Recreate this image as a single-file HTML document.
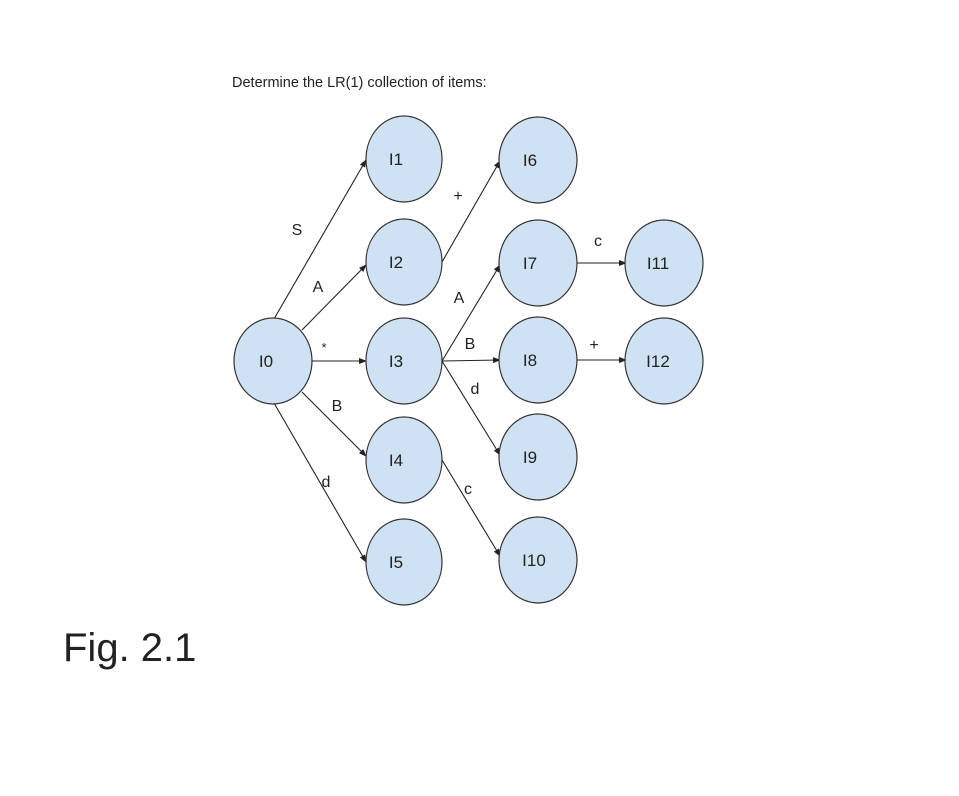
<!DOCTYPE html>
<html><head><meta charset="utf-8"><style>
html,body{margin:0;padding:0;background:#fff;width:959px;height:796px;overflow:hidden}
svg text{font-family:"Liberation Sans",Arial,sans-serif;fill:#222}
</style></head><body>
<svg width="959" height="796" viewBox="0 0 959 796" xmlns="http://www.w3.org/2000/svg">
<defs><marker id="a" markerWidth="8" markerHeight="6" refX="7" refY="3" orient="auto" markerUnits="userSpaceOnUse"><path d="M0,0 L8,3 L0,6 z" fill="#222"/></marker></defs>
<text x="232" y="87" font-size="14.5">Determine the LR(1) collection of items:</text>
<g stroke="#222" stroke-width="1.1" fill="none" marker-end="url(#a)">
<line x1="274" y1="319" x2="366" y2="160"/>
<line x1="302" y1="330" x2="366" y2="265"/>
<line x1="312" y1="361" x2="366" y2="361"/>
<line x1="302" y1="392" x2="366" y2="456"/>
<line x1="274" y1="403" x2="366" y2="562"/>
<line x1="442" y1="262" x2="500" y2="161"/>
<line x1="442" y1="361" x2="500" y2="265"/>
<line x1="442" y1="361" x2="500" y2="360"/>
<line x1="442" y1="361" x2="500" y2="455"/>
<line x1="442" y1="460" x2="500" y2="556"/>
<line x1="577" y1="263" x2="626" y2="263"/>
<line x1="577" y1="360" x2="626" y2="360"/>
</g>
<g fill="#cfe2f3" stroke="#333" stroke-width="1.2">
<ellipse cx="273" cy="361" rx="39" ry="43"/>
<ellipse cx="404" cy="159" rx="38" ry="43"/>
<ellipse cx="404" cy="262" rx="38" ry="43"/>
<ellipse cx="404" cy="361" rx="38" ry="43"/>
<ellipse cx="404" cy="460" rx="38" ry="43"/>
<ellipse cx="404" cy="562" rx="38" ry="43"/>
<ellipse cx="538" cy="160" rx="39" ry="43"/>
<ellipse cx="538" cy="263" rx="39" ry="43"/>
<ellipse cx="538" cy="360" rx="39" ry="43"/>
<ellipse cx="538" cy="457" rx="39" ry="43"/>
<ellipse cx="538" cy="560" rx="39" ry="43"/>
<ellipse cx="664" cy="263" rx="39" ry="43"/>
<ellipse cx="664" cy="361" rx="39" ry="43"/>
</g>
<g font-size="17" text-anchor="middle">
<text x="266" y="367">I0</text>
<text x="396" y="165">I1</text>
<text x="396" y="268">I2</text>
<text x="396" y="367">I3</text>
<text x="396" y="466">I4</text>
<text x="396" y="568">I5</text>
<text x="530" y="166">I6</text>
<text x="530" y="269">I7</text>
<text x="530" y="366">I8</text>
<text x="530" y="463">I9</text>
<text x="534" y="566">I10</text>
<text x="658" y="269">I11</text>
<text x="658" y="367">I12</text>
</g>
<g font-size="16" text-anchor="middle">
<text x="297" y="235">S</text>
<text x="318" y="292">A</text>
<text x="324" y="352" font-size="13">*</text>
<text x="337" y="411">B</text>
<text x="326" y="487">d</text>
<text x="458" y="201">+</text>
<text x="459" y="303">A</text>
<text x="470" y="349">B</text>
<text x="475" y="394">d</text>
<text x="468" y="494">c</text>
<text x="598" y="246">c</text>
<text x="594" y="350">+</text>
</g>
<text x="63" y="661" font-size="40" fill="#222">Fig. 2.1</text>
</svg>
</body></html>
